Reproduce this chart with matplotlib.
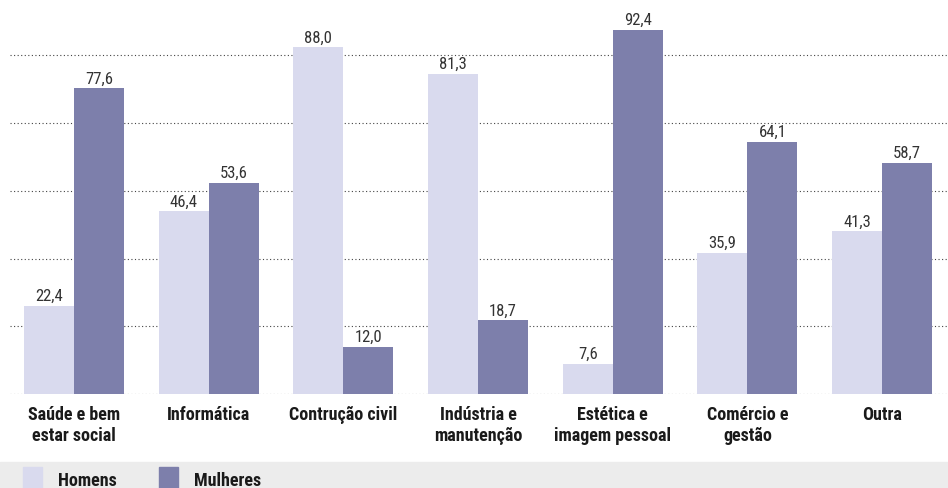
import numpy as np
import matplotlib.pyplot as plt
from matplotlib.patches import Rectangle

categorias = ["Saúde e bem\nestar social", "Informática", "Contrução civil",
              "Indústria e\nmanutenção", "Estética e\nimagem pessoal",
              "Comércio e\ngestão", "Outra"]
homens = [22.4, 46.4, 88.0, 81.3, 7.6, 35.9, 41.3]
mulheres = [77.6, 53.6, 12.0, 18.7, 92.4, 64.1, 58.7]
grade = [0, 17.2, 34.4, 51.6, 68.8, 86.0]

cor_h = "#d9daee"
cor_m = "#7d7fab"
fonte = ["Roboto Condensed", "DejaVu Sans"]

W, H = 948, 489
fig = plt.figure(figsize=(W / 100, H / 100), dpi=100)
ax = fig.add_axes([10 / W, (H - 395) / H, 938 / W, 395 / H])

x = np.arange(len(categorias))
larg = 0.371
ax.bar(x - larg / 2, homens, larg, color=cor_h, zorder=2)
ax.bar(x + larg / 2, mulheres, larg, color=cor_m, zorder=2)

for g in grade:
    ax.axhline(g, color="#444444", lw=0.8, ls=(0, (1, 2.2)), zorder=1)

for i in range(len(categorias)):
    for xx, v in [(x[i] - larg / 2, homens[i]), (x[i] + larg / 2, mulheres[i])]:
        ax.text(xx, v + 1.5, f"{v:.1f}".replace(".", ","), ha="center", va="baseline",
                fontsize=12, color="#333333", family=fonte, stretch="condensed")
    ax.text(x[i], -2.9, categorias[i], ha="center", va="top", fontsize=13,
            fontweight="bold", color="#1a1a1a", family=fonte, stretch="condensed",
            linespacing=1.18)

ax.set_xlim(-0.475, 6.49)
ax.set_ylim(0, 100.3)
ax.axis("off")

# faixa da legenda
fig.patches.append(Rectangle((0, 0), 1, 26 / H, transform=fig.transFigure,
                             color="#ececec", zorder=0))
fig.patches.append(Rectangle((23 / W, 0), 19 / W, 21 / H, transform=fig.transFigure,
                             color=cor_h, zorder=1))
fig.patches.append(Rectangle((159 / W, 0), 19 / W, 21 / H, transform=fig.transFigure,
                             color=cor_m, zorder=1))
fig.text(58 / W, 3 / H, "Homens", fontsize=13, fontweight="bold", color="#1a1a1a",
         family=fonte, stretch="condensed", va="baseline")
fig.text(194 / W, 3 / H, "Mulheres", fontsize=13, fontweight="bold", color="#1a1a1a",
         family=fonte, stretch="condensed", va="baseline")

fig.savefig("out.png", dpi=100)
